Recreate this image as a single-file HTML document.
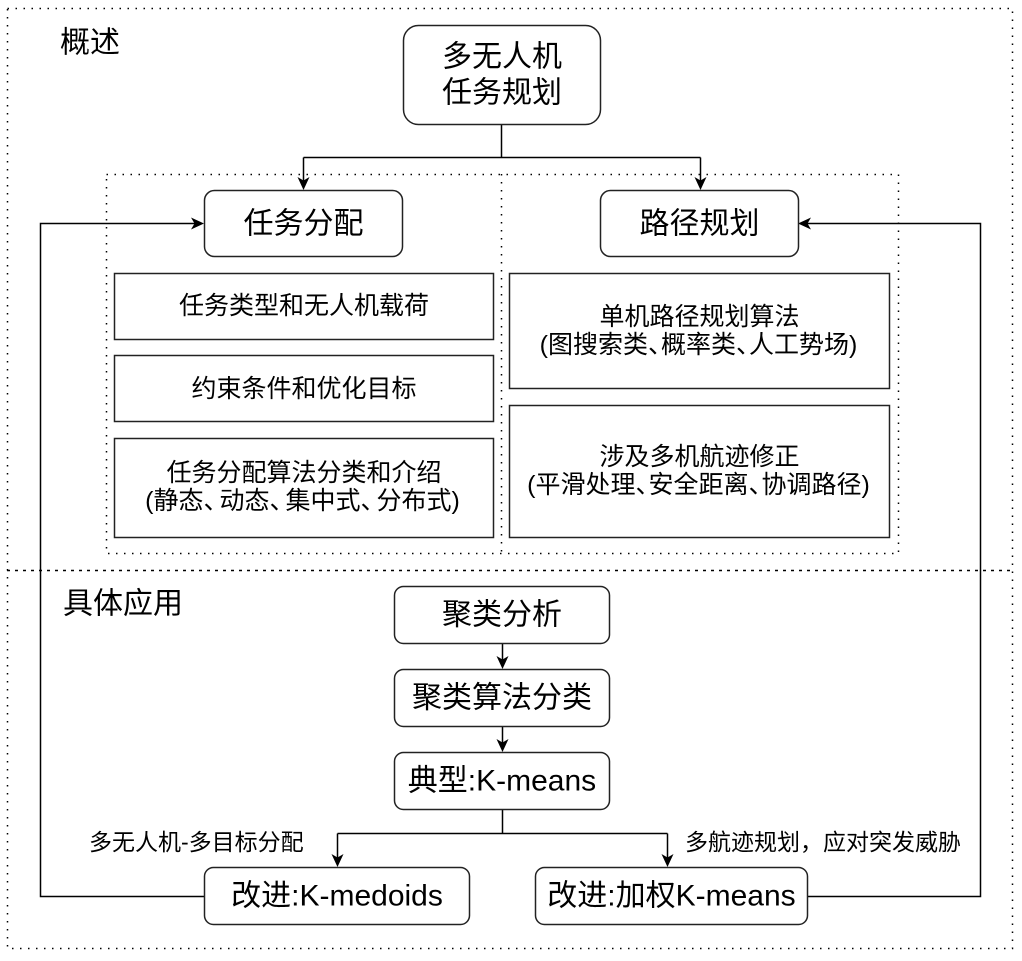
<!DOCTYPE html>
<html><head><meta charset="utf-8"><style>
html,body{margin:0;padding:0;background:#fff;}
svg{display:block;}
text{font-family:"Liberation Sans","Noto Sans CJK SC",sans-serif;fill:#000;}
</style></head><body>
<svg width="1022" height="961" viewBox="0 0 1022 961" xmlns="http://www.w3.org/2000/svg">
<!-- outer dotted -->
<rect x="7.5" y="8.5" width="1005" height="940" fill="none" stroke="#000" stroke-width="1.5" stroke-dasharray="1.5 6.5"/>
<!-- separator -->
<line x1="7" y1="570.5" x2="1013" y2="570.5" stroke="#000" stroke-width="1.5" stroke-dasharray="3 5"/>
<!-- inner dotted -->
<rect x="106.5" y="174.5" width="792" height="379" fill="none" stroke="#000" stroke-width="1.5" stroke-dasharray="1.5 6.5"/>
<line x1="501.5" y1="174" x2="501.5" y2="553" stroke="#000" stroke-width="1.5" stroke-dasharray="1.5 6.5"/>

<g fill="none" stroke="#000" stroke-width="1.5">
<!-- connectors -->
<path d="M501.5 124 V157.5 M303.5 157.5 H700.5 M303.5 157.5 V182 M700.5 157.5 V182"/>
<path d="M204 896.5 H40.5 V223.5 H196"/>
<path d="M807 896.5 H980.5 V223.5 H806"/>
<path d="M502.5 643 V661 M502.5 726 V744"/>
<path d="M502.5 809 V833.5 M337.5 833.5 H667.5 M337.5 833.5 V859 M667.5 833.5 V859"/>
</g>
<g fill="#000">
<path d="M303.5 190 L297.5 177 L303.5 180.5 L309.5 177 Z"/>
<path d="M700.5 190 L694.5 177 L700.5 180.5 L706.5 177 Z"/>
<path d="M204 223.5 L191 217.5 L194.5 223.5 L191 229.5 Z"/>
<path d="M798 223.5 L811 217.5 L807.5 223.5 L811 229.5 Z"/>
<path d="M502.5 669 L496.5 656 L502.5 659.5 L508.5 656 Z"/>
<path d="M502.5 752 L496.5 739 L502.5 742.5 L508.5 739 Z"/>
<path d="M337.5 867 L331.5 854 L337.5 857.5 L343.5 854 Z"/>
<path d="M667.5 867 L661.5 854 L667.5 857.5 L673.5 854 Z"/>
</g>

<!-- boxes -->
<g fill="#fff" stroke="#222" stroke-width="1.5">
<rect x="403.5" y="25.5" width="197" height="99" rx="15"/>
<rect x="204.5" y="190.5" width="198" height="66" rx="10"/>
<rect x="600.5" y="190.5" width="198" height="66" rx="10"/>
<rect x="114.5" y="273.5" width="379" height="66"/>
<rect x="114.5" y="355.5" width="379" height="66"/>
<rect x="114.5" y="438.5" width="379" height="99"/>
<rect x="509.5" y="273.5" width="380" height="115"/>
<rect x="509.5" y="405.5" width="380" height="132"/>
<rect x="394.5" y="586.5" width="215" height="57" rx="9"/>
<rect x="394.5" y="669.5" width="215" height="57" rx="9"/>
<rect x="394.5" y="752.5" width="215" height="57" rx="9"/>
<rect x="204.5" y="867.5" width="265" height="57" rx="9"/>
<rect x="535.5" y="867.5" width="272" height="57" rx="9"/>
</g>

<!-- text -->
<g dominant-baseline="central">
<text x="60" y="43" font-size="30">概述</text>
<text x="63" y="604" font-size="30">具体应用</text>
<g text-anchor="middle" font-size="30">
<text x="502" y="57">多无人机</text>
<text x="502" y="93">任务规划</text>
<text x="303.5" y="224">任务分配</text>
<text x="699.5" y="224">路径规划</text>
<text x="502" y="615">聚类分析</text>
<text x="502" y="698">聚类算法分类</text>
<text x="502" y="781">典型:K-means</text>
<text x="337" y="896">改进:K-medoids</text>
<text x="671.5" y="896">改进:加权K-means</text>
</g>
<g text-anchor="middle" font-size="25">
<text x="304" y="306">任务类型和无人机载荷</text>
<text x="304" y="389">约束条件和优化目标</text>
<text x="304" y="473">任务分配算法分类和介绍</text>
<text x="302.5" y="501">(静态、<tspan dx="-9">动态、</tspan><tspan dx="-9">集中式、</tspan><tspan dx="-9">分布式)</tspan></text>
<text x="699.5" y="317">单机路径规划算法</text>
<text x="698.5" y="345">(图搜索类、<tspan dx="-12">概率类、</tspan><tspan dx="-12">人工势场)</tspan></text>
<text x="699.5" y="457">涉及多机航迹修正</text>
<text x="698.5" y="485">(平滑处理、<tspan dx="-12">安全距离、</tspan><tspan dx="-12">协调路径)</tspan></text>
</g>
<text x="89" y="842" font-size="23">多无人机-多目标分配</text>
<text x="685" y="842" font-size="23">多航迹规划，应对突发威胁</text>
</g>
</svg>
</body></html>
